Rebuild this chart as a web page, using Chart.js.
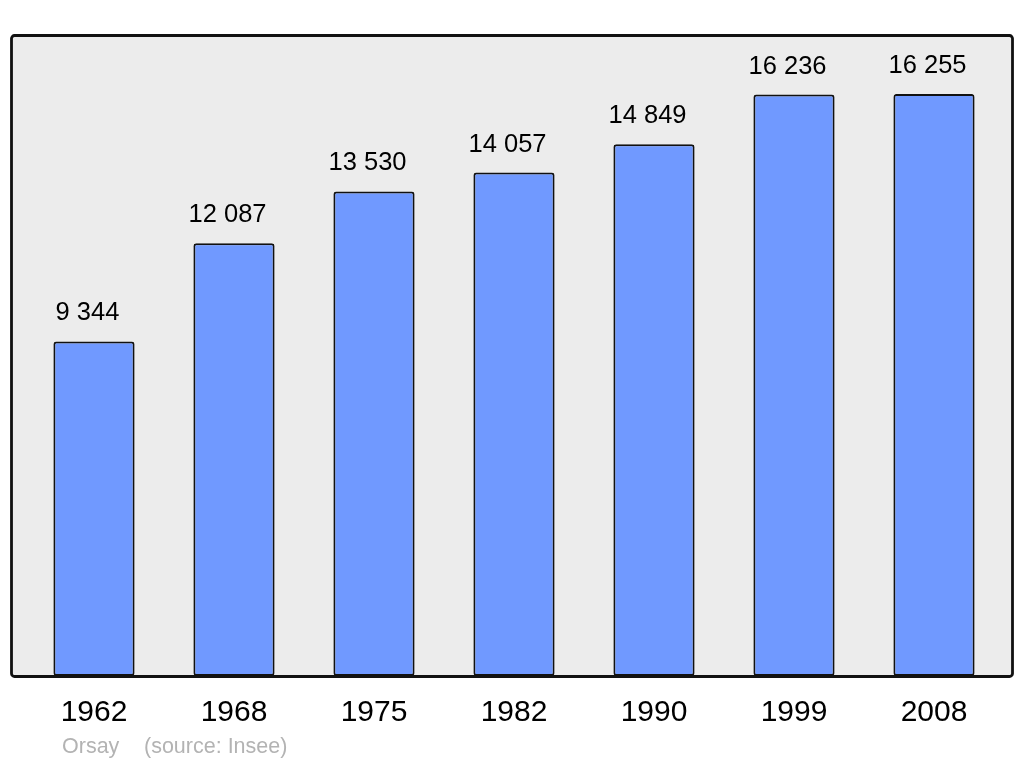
<!DOCTYPE html>
<html>
<head>
<meta charset="utf-8">
<script src="https://cdn.jsdelivr.net/npm/chart.js@4/dist/chart.umd.min.js"></script>
<style>
html,body{margin:0;padding:0;background:#fff;}
#wrap{width:1024px;height:765px;position:relative;}
</style>
</head>
<body>
<div id="wrap"><canvas id="c" width="1024" height="765"></canvas></div>
<script>
const years = ['1962','1968','1975','1982','1990','1999','2008'];
const population = [9344, 12087, 13530, 14057, 14849, 16236, 16255];
const townName = 'Orsay';
const sourceText = '(source: Insee)';

function fmt(n){ return String(n).replace(/\B(?=(\d{3})+(?!\d))/g, ' '); }

function roundRect(ctx, x, y, w, h, r){
  ctx.beginPath();
  ctx.moveTo(x+r, y);
  ctx.lineTo(x+w-r, y);
  ctx.arcTo(x+w, y, x+w, y+r, r);
  ctx.lineTo(x+w, y+h-r);
  ctx.arcTo(x+w, y+h, x+w-r, y+h, r);
  ctx.lineTo(x+r, y+h);
  ctx.arcTo(x, y+h, x, y+h-r, r);
  ctx.lineTo(x, y+r);
  ctx.arcTo(x, y, x+r, y, r);
  ctx.closePath();
}

const decor = {
  id: 'decor',
  beforeDatasetsDraw(chart){
    const ctx = chart.ctx, a = chart.chartArea;
    ctx.save();
    roundRect(ctx, 11.5, a.top + 0.5, 1001, a.bottom - a.top, 3);
    ctx.fillStyle = '#ececec';
    ctx.fill();
    ctx.restore();
  },
  afterDatasetsDraw(chart){
    const ctx = chart.ctx, a = chart.chartArea;
    const meta = chart.getDatasetMeta(0);
    ctx.save();
    roundRect(ctx, 11.5, a.top + 0.5, 1001, a.bottom - a.top, 3);
    ctx.strokeStyle = '#111';
    ctx.lineWidth = 2.8;
    ctx.stroke();
    // value labels
    ctx.fillStyle = '#000';
    ctx.font = '25.5px "Liberation Sans", Arial, sans-serif';
    ctx.textAlign = 'center';
    ctx.textBaseline = 'alphabetic';
    meta.data.forEach((el, i) => {
      ctx.fillText(fmt(population[i]), el.x - 6.5, el.y - 21);
    });
    // year labels
    ctx.font = '30px "Liberation Sans", Arial, sans-serif';
    ctx.textBaseline = 'middle';
    const xs = chart.scales.x;
    years.forEach((y, i) => {
      ctx.fillText(y, xs.getPixelForValue(i), 713);
    });
    // footer
    ctx.fillStyle = '#b3b3b3';
    ctx.font = '21.5px "Liberation Sans", Arial, sans-serif';
    ctx.textAlign = 'left';
    ctx.fillText(townName, 62, 747);
    ctx.fillText(sourceText, 144, 747);
    ctx.restore();
  }
};

new Chart(document.getElementById('c'), {
  type: 'bar',
  data: {
    labels: years,
    datasets: [{
      data: population,
      backgroundColor: '#7099ff',
      borderColor: '#111',
      borderWidth: 2,
      borderRadius: 3,
      borderSkipped: false,
      barPercentage: 0.58,
      categoryPercentage: 1
    }]
  },
  options: {
    responsive: false,
    animation: false,
    layout: { padding: { left: 24, right: 20, top: 35, bottom: 89 } },
    plugins: { legend: { display: false }, tooltip: { enabled: false }, title: { display: false } },
    scales: {
      x: { display: false, offset: true },
      y: { display: false, min: 0, max: 17900 }
    }
  },
  plugins: [decor]
});
</script>
</body>
</html>
